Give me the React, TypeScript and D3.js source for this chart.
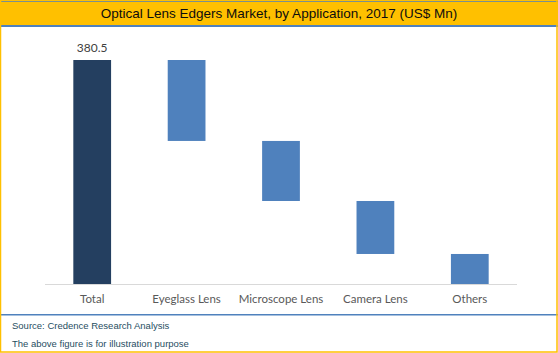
import React from "react";
import * as d3 from "d3";

const categories = ["Total", "Eyeglass Lens", "Microscope Lens", "Camera Lens", "Others"];
const values = [380.5, 137.5, 102, 90, 51];
const isTotal = [true, false, false, false, false];
const title = "Optical Lens Edgers Market, by Application, 2017 (US$ Mn)";
const notes = ["Source: Credence Research Analysis", "The above figure is for illustration purpose"];

export default function App() {
  const W = 558, H = 353;
  const x = d3.scaleBand<string>().domain(categories).range([45, 517]).paddingInner(0.6).paddingOuter(0.3);
  const y = d3.scaleLinear().domain([0, 380.5]).range([284, 60]);

  let remaining = values[0];
  const segs = categories.map((c, i) => {
    if (isTotal[i]) return { c, y0: 0, y1: values[i], v: values[i], total: true };
    const top = remaining;
    remaining -= values[i];
    return { c, y0: remaining, y1: top, v: values[i], total: false };
  });

  return (
    <svg width={W} height={H} style={{ position: "absolute", left: 0, top: 0, display: "block" }}>
      <rect x={0} y={0} width={W} height={H} fill="#fff" />
      <rect x={0} y={0} width={W} height={25} fill="#FFC000" />
      <rect x={0} y={1} width={W} height={1} fill="#4F81BD" />
      <rect x={0} y={25} width={W} height={2} fill="#4F81BD" />
      <text x={W / 2} y={18} textAnchor="middle" fontFamily="Liberation Sans, Arial, sans-serif" fontSize={13.5} fill="#0d0d0d">
        {title}
      </text>
      <line x1={45} x2={517} y1={284.5} y2={284.5} stroke="#D9D9D9" strokeWidth={1} />
      {segs.map((s) => (
        <rect
          key={s.c}
          x={x(s.c)}
          width={x.bandwidth()}
          y={y(s.y1)}
          height={y(s.y0) - y(s.y1)}
          fill={s.total ? "#243F60" : "#4F81BD"}
        />
      ))}
      {segs.filter((s) => s.total).map((s) => (
        <text key={"l" + s.c} x={(x(s.c) as number) + x.bandwidth() / 2} y={y(s.y1) - 8} textAnchor="middle"
          fontFamily="Lato, Open Sans, sans-serif" fontSize={12} fill="#404040">
          {d3.format(".1f")(s.v)}
        </text>
      ))}
      {categories.map((c) => (
        <text key={"c" + c} x={(x(c) as number) + x.bandwidth() / 2} y={303} textAnchor="middle"
          fontFamily="Lato, Open Sans, sans-serif" fontSize={11.5} fill="#595959">
          {c}
        </text>
      ))}
      <rect x={0} y={314} width={W} height={1.5} fill="#4F81BD" />
      {notes.map((n, i) => (
        <text key={n} x={12} y={329 + i * 18} fontFamily="Liberation Sans, Arial, sans-serif" fontSize={9.5} fill="#1F4E5F">
          {n}
        </text>
      ))}
      <rect x={0.5} y={0.5} width={W - 1.5} height={H - 1.5} fill="none" stroke="#FFC000" strokeWidth={1.5} />
    </svg>
  );
}
